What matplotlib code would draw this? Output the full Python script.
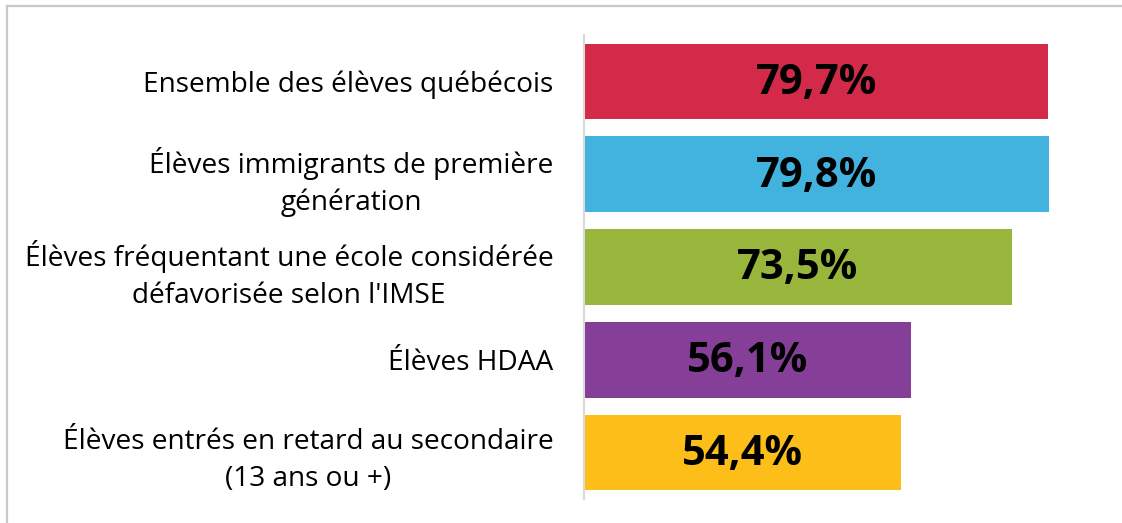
import matplotlib
matplotlib.use("Agg")
import matplotlib.pyplot as plt
from matplotlib.lines import Line2D

categories = [
    "Ensemble des élèves québécois",
    "Élèves immigrants de première\ngénération",
    "Élèves fréquentant une école considérée\ndéfavorisée selon l'IMSE",
    "Élèves HDAA",
    "Élèves entrés en retard au secondaire\n(13 ans ou +)",
]
values = [79.7, 79.8, 73.5, 56.1, 54.4]
value_labels = ["79,7%", "79,8%", "73,5%", "56,1%", "54,4%"]
colors = ["#D22A48", "#41B3DE", "#98B53C", "#853F98", "#FDBE1A"]

W, H = 1122, 523
fig = plt.figure(figsize=(W / 100, H / 100), dpi=100)
fig.patch.set_facecolor("white")

# figure border (only left and top visible)
bx, by = 6.5 / W, 1 - 5.5 / H
fig.add_artist(Line2D([bx, bx], [0, by], transform=fig.transFigure,
                      color="#C8C8C8", linewidth=1.6))
fig.add_artist(Line2D([bx, 1], [by, by], transform=fig.transFigure,
                      color="#C8C8C8", linewidth=1.6))

left, right = 584, 1108
top, bottom = 35, 499
ax = fig.add_axes([left / W, 1 - bottom / H, (right - left) / W, (bottom - top) / H])

y = list(range(len(categories)))
ax.barh(y, values, height=0.815, color=colors)
ax.set_xlim(0, 90)
ax.set_ylim(len(categories) - 0.5, -0.5)

for yi, v, lab in zip(y, values, value_labels):
    ax.text(v / 2, yi + 0.02, lab, ha="center", va="center",
            fontsize=30, fontweight="bold", family="Open Sans", color="black")

ax.set_yticks(y)
ax.set_yticklabels(categories, fontsize=20.2, family="Open Sans",
                   multialignment="center", linespacing=1.42)
ax.tick_params(axis="y", length=0, pad=22)
ax.set_xticks([])
for s in ["top", "right", "bottom"]:
    ax.spines[s].set_visible(False)
ax.spines["left"].set_color("#D9D9D9")
ax.spines["left"].set_linewidth(1.5)

fig.savefig("out.png", dpi=100)
